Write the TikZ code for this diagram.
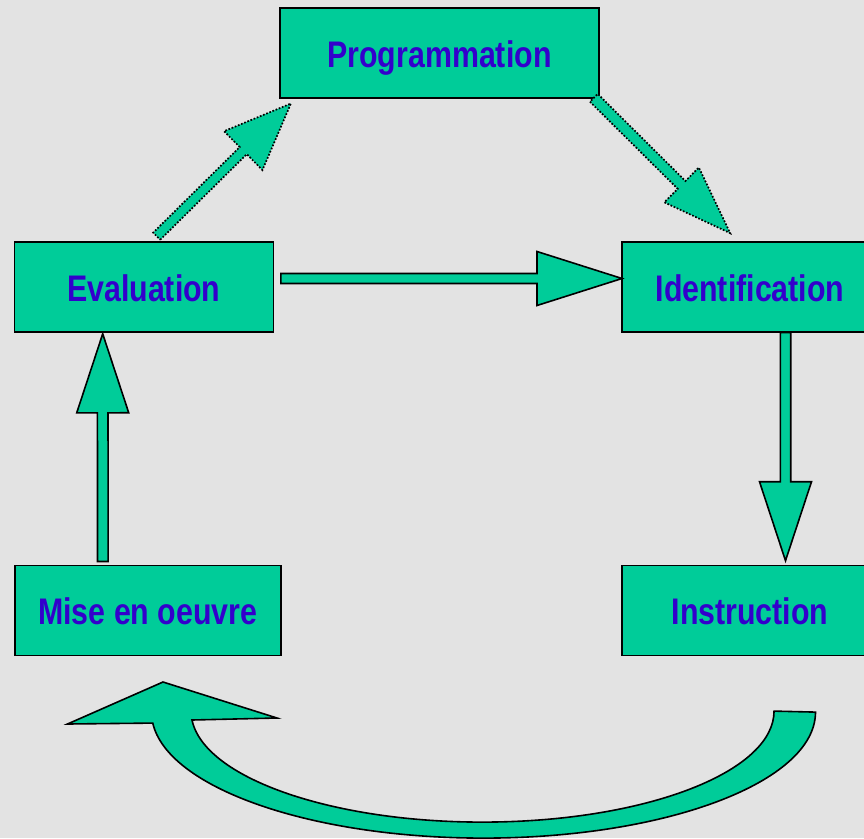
\documentclass[tikz,border=0pt]{standalone}
\usepackage{fontspec}
\newfontfamily\labelfont{Liberation Sans}[FakeStretch=0.82]
\usetikzlibrary{calc}
\definecolor{bg}{HTML}{E3E3E3}
\definecolor{boxgreen}{HTML}{00CC99}
\definecolor{labelblue}{HTML}{3300CC}

% Block arrow: [style]{from}{to}{shaft half width}{head half width}{head length}
\newcommand\blockarrow[6][]{%
  \path[#1] let \p1=(#2), \p2=(#3),
      \n1={atan2(\y2-\y1,\x2-\x1)}, \n2={veclen(\x2-\x1,\y2-\y1)} in
    [shift={(\p1)}, rotate=\n1]
    (0,#4) -- ({\n2-#6},#4) -- ({\n2-#6},#5) -- (\n2,0)
    -- ({\n2-#6},-#5) -- ({\n2-#6},-#4) -- (0,-#4) -- cycle;%
}

\begin{document}
\begin{tikzpicture}[x=1pt, y=-1pt,
  stage/.style={rectangle, draw=black, line width=1.6pt, fill=boxgreen,
    minimum height=90pt, minimum width=#1, inner sep=0pt, text=labelblue,
    text height=28.6pt, text depth=0pt,
    font=\labelfont\bfseries\fontsize{37}{44}\selectfont},
  solidarrow/.style={fill=boxgreen, draw=black, line width=1.6pt, line join=miter},
  dotarrow/.style={fill=boxgreen, draw=black, line width=1.7pt,
    dash pattern=on 1.7pt off 1.7pt}]

  % canvas
  \useasboundingbox (0,0) rectangle (864,838);
  \fill[bg] (0,0) rectangle (864,838);
  \clip (0,0) rectangle (864,838);

  % stages of the cycle
  \node[stage=319pt] (prog)  at (439.5,53)    {Programmation};
  \node[stage=259pt] (eval)  at (143.8,286.7) {Evaluation};
  \node[stage=256pt] (ident) at (750,286.7)   {Identification};
  \node[stage=266pt] (mise)  at (147.8,610.3) {Mise en oeuvre};
  \node[stage=256pt] (instr) at (750,610.3)   {Instruction};

  % arrow end points
  \coordinate (evalOut)  at ($(eval.north)+(12.9,-4.7)$);
  \coordinate (progIn)   at ($(prog.south west)+(11.7,4.7)$);
  \coordinate (progOut)  at ($(prog.south east)+(-6,-1)$);
  \coordinate (identIn)  at ($(ident.north west)+(109,-7.7)$);
  \coordinate (hTail)    at ($(eval.east)+(6.7,-8.2)$);
  \coordinate (hTip)     at ($(ident.west)+(0.8,-8.2)$);
  \coordinate (vTail)    at ($(ident.south west)+(164.3,0)$);
  \coordinate (vTip)     at ($(instr.north west)+(164.3,-3.8)$);
  \coordinate (uTail)    at ($(mise.north west)+(88.8,-3)$);
  \coordinate (uTip)     at ($(eval.south west)+(89.2,1.3)$);

  % straight connectors
  \blockarrow[dotarrow]{evalOut}{progIn}{5}{27.3}{67}
  \blockarrow[dotarrow]{progOut}{identIn}{5.5}{24.5}{68.5}
  \blockarrow[solidarrow]{hTail}{hTip}{5}{27}{85}
  \blockarrow[solidarrow]{vTail}{vTip}{5.2}{26}{79}
  \blockarrow[solidarrow]{uTail}{uTip}{5.3}{26}{79}

  % curved return arrow from Instruction back to Mise en oeuvre
  \coordinate (cStart) at ($(instr.south west)+(194.3,56)$);
  \path[solidarrow] (cStart)
    arc[start angle=0, end angle=175, x radius=332, y radius=126]
    -- (67.5,724) -- (163,682) -- (277,718) -- (192,720)
    arc[start angle=175.4, end angle=0, x radius=291.5, y radius=111]
    -- cycle;
\end{tikzpicture}
\end{document}
